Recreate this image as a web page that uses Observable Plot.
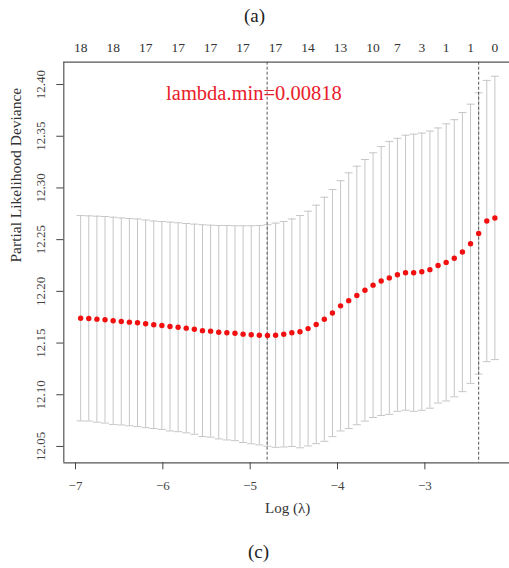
<!DOCTYPE html>
<html><head><meta charset="utf-8">
<script src="https://cdn.jsdelivr.net/npm/d3@7"></script>
<script src="https://cdn.jsdelivr.net/npm/@observablehq/plot@0.6"></script>
<style>
body{margin:0;background:#fff;font-family:"Liberation Serif",serif;}
.cap{text-align:center;font-size:19px;color:#222;}
svg text{font-family:"Liberation Serif",serif !important;}
</style></head><body>
<div class="cap" style="height:32px;line-height:32px">(a)</div>
<div id="chart"></div>
<div class="cap" style="height:36px;line-height:40px;padding-left:8px">(c)</div>
<script>
// log(lambda) values, left to right
const logLambda = [-6.941,-6.848,-6.755,-6.662,-6.569,-6.476,-6.383,-6.290,-6.197,-6.104,
  -6.011,-5.918,-5.825,-5.732,-5.639,-5.546,-5.453,-5.360,-5.267,-5.174,
  -5.081,-4.988,-4.895,-4.802,-4.709,-4.616,-4.523,-4.430,-4.337,-4.244,
  -4.151,-4.058,-3.965,-3.872,-3.779,-3.686,-3.593,-3.500,-3.407,-3.314,
  -3.221,-3.128,-3.035,-2.942,-2.849,-2.756,-2.663,-2.570,-2.477,-2.384,
  -2.291,-2.198];
// mean cross-validated partial likelihood deviance
const cvm = [12.1740,12.1738,12.1731,12.1725,12.1715,12.1709,12.1702,12.1696,12.1686,12.1677,
  12.1670,12.1660,12.1653,12.1644,12.1634,12.1620,12.1615,12.1605,12.1600,12.1595,
  12.1586,12.1580,12.1576,12.1573,12.1576,12.1585,12.1600,12.1610,12.1640,12.1680,
  12.1730,12.1790,12.1860,12.1910,12.1960,12.2010,12.2060,12.2100,12.2130,12.2160,
  12.2180,12.2180,12.2190,12.2210,12.2250,12.2280,12.2320,12.2380,12.2460,12.2560,
  12.2680,12.2710];
// standard error (error bar half-length)
const cvse = [0.0993,0.0992,0.0996,0.0999,0.1002,0.1001,0.1002,0.1004,0.1004,0.1003,
  0.1005,0.1010,0.1010,0.1012,0.1016,0.1024,0.1025,0.1032,0.1037,0.1039,
  0.1048,0.1054,0.1061,0.1071,0.1084,0.1090,0.1100,0.1123,0.1135,0.1153,
  0.1180,0.1195,0.1210,0.1236,0.1250,0.1265,0.1280,0.1300,0.1320,0.1320,
  0.1330,0.1340,0.1340,0.1340,0.1330,0.1340,0.1340,0.1350,0.1350,0.1360,
  0.1360,0.1370];
// number of non-zero coefficients shown on top axis
const nzPositions = [-6.941,-6.569,-6.197,-5.825,-5.453,-5.081,-4.709,-4.337,-3.965,-3.593,-3.314,-3.035,-2.756,-2.477,-2.198];
const nzLabels = ["18","18","17","17","17","17","17","14","13","10","7","3","1","1","0"];
const xTicks = [-7,-6,-5,-4,-3];
const yTicks = [12.05,12.10,12.15,12.20,12.25,12.30,12.35,12.40];
const lambdaMin = 0.00818;
const lambda1seLog = -2.384;
const annotX = -4.958, annotY = 12.3914;
const xDomain = [-7.134, -2.008];
const yDomain = [12.0342, 12.4216];

const data = logLambda.map((x, i) => ({x, y: cvm[i], lo: cvm[i] - cvse[i], hi: cvm[i] + cvse[i]}));
const topData = nzPositions.map((x, i) => ({x, label: nzLabels[i]}));
const capSymbol = {draw(context, size) { const w = Math.sqrt(size / Math.PI); context.moveTo(-w, 0); context.lineTo(w, 0); }};
const barColor = "#c6c6c6";
const font = "'Liberation Serif', serif";

const chart = Plot.plot({
  width: 509, height: 500,
  marginLeft: 63.3, marginTop: 29.7, marginBottom: 69.7, marginRight: -2,
  style: {fontFamily: font, background: "white"},
  x: {domain: xDomain},
  y: {domain: yDomain},
  marks: [
    Plot.ruleX(data, {x: "x", y1: "lo", y2: "hi", stroke: barColor, strokeWidth: 1}),
    Plot.dot(data, {x: "x", y: "hi", symbol: capSymbol, r: 4, stroke: barColor, fill: "none", strokeWidth: 1}),
    Plot.dot(data, {x: "x", y: "lo", symbol: capSymbol, r: 4, stroke: barColor, fill: "none", strokeWidth: 1}),
    Plot.ruleX([Math.log(lambdaMin), lambda1seLog], {stroke: "#555", strokeWidth: 1, strokeDasharray: "3,2"}),
    Plot.dot(data, {x: "x", y: "y", r: 2.7, fill: "#f01010", stroke: "none"}),
    Plot.ruleY([yDomain[0], yDomain[1]], {stroke: "#555", strokeWidth: 1.2}),
    Plot.ruleX([xDomain[0]], {stroke: "#555", strokeWidth: 1.2}),
    Plot.axisX({ticks: xTicks, tickSize: 7, tickPadding: 11, tickFormat: d3.format("d"), fontSize: 13, fontFamily: font, color: "#444", label: null}),
    Plot.axisY({ticks: yTicks, tickSize: 7, tickPadding: 12, tickRotate: -90, tickFormat: d3.format(".2f"), fontSize: 13, fontFamily: font, color: "#444", label: null}),
    Plot.text(topData, {x: "x", text: "label", frameAnchor: "top", dy: -19.5, fontSize: 13.5, fontFamily: font, fill: "#333"}),
    Plot.text(["Log (λ)"], {frameAnchor: "bottom", dy: 50.5, fontSize: 15, fontFamily: font, fill: "#333"}),
    Plot.text(["Partial Likelihood Deviance"], {frameAnchor: "left", dx: -47.3, rotate: -90, fontSize: 15.5, fontFamily: font, fill: "#333"}),
    Plot.text([{x: annotX, y: annotY}], {x: "x", y: "y", text: () => `lambda.min=${lambdaMin}`, fontSize: 20.5, fontFamily: font, fill: "#e8202a"})
  ]
});
document.getElementById("chart").appendChild(chart);
</script>
</body></html>
